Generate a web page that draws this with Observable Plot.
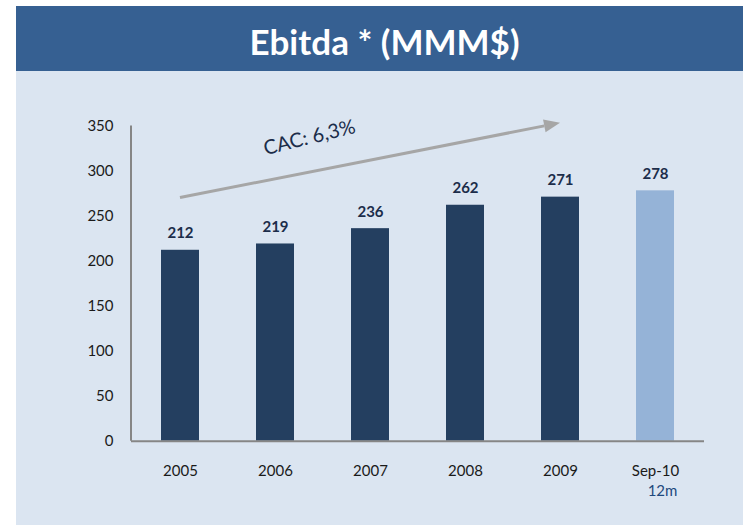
<!DOCTYPE html>
<html>
<head>
<meta charset="utf-8">
<script src="https://cdn.jsdelivr.net/npm/d3@7"></script>
<script src="https://cdn.jsdelivr.net/npm/@observablehq/plot@0.6"></script>
<style>
  html, body { margin: 0; padding: 0; background: #ffffff; }
  #wrap { position: relative; width: 743px; height: 525px; overflow: hidden; font-family: Lato, "Open Sans", sans-serif; }
  #banner { position: absolute; left: 16px; top: 6px; width: 727px; height: 65px; background: #366092;
            color: #ffffff; font-weight: bold; font-size: 35px; line-height: 65px; text-align: center; box-sizing: border-box; padding-left: 10px; padding-top: 3px; }
  #panel { position: absolute; left: 16px; top: 71px; width: 727px; height: 454px; background: #dbe5f1; }
  #chart { position: absolute; left: 0; top: 71px; }
</style>
</head>
<body>
<div id="wrap">
  <div id="banner">Ebitda * (MMM$)</div>
  <div id="panel"></div>
  <div id="chart"></div>
</div>
<script>
// ---- data ----
const categories = ["2005", "2006", "2007", "2008", "2009", "Sep-10"];
const values = [212, 219, 236, 262, 271, 278];
const yTicks = [0, 50, 100, 150, 200, 250, 300, 350];
const notes = [{cat: "Sep-10", text: "12m"}];
const trendLabel = [{cat: "2006", value: 337, text: "CAC: 6,3%"}];
const trendArrow = {fromCat: "2005", fromValue: 270, toCat: "2009", toValue: 353};
const lastCategory = "Sep-10";

const data = categories.map((c, i) => ({cat: c, value: values[i]}));

const dark = "#243f60";
const light = "#95b3d7";
const axisGray = "#868686";
const labelColor = "#1c2d4a";

function leftAxisLine(index, scales, values, dims) {
  const y = scales.y;
  const line = document.createElementNS("http://www.w3.org/2000/svg", "line");
  line.setAttribute("x1", dims.marginLeft);
  line.setAttribute("x2", dims.marginLeft);
  line.setAttribute("y1", y(yTicks[yTicks.length - 1]));
  line.setAttribute("y2", y(0));
  line.setAttribute("stroke", axisGray);
  line.setAttribute("stroke-width", 2);
  return line;
}

function arrowMark(index, scales, values, dims) {
  const x = scales.x, y = scales.y;
  const off = typeof x.bandwidth === "function" ? x.bandwidth() / 2 : 0;
  const x1 = x(trendArrow.fromCat) + off, y1 = y(trendArrow.fromValue);
  const x2 = x(trendArrow.toCat) + off, y2 = y(trendArrow.toValue);
  const ang = Math.atan2(y2 - y1, x2 - x1);
  const headLen = 16, headHalf = 6.5;
  const bx = x2 - headLen * Math.cos(ang), by = y2 - headLen * Math.sin(ang);
  const g = document.createElementNS("http://www.w3.org/2000/svg", "g");
  const line = document.createElementNS("http://www.w3.org/2000/svg", "line");
  line.setAttribute("x1", x1); line.setAttribute("y1", y1);
  line.setAttribute("x2", bx); line.setAttribute("y2", by);
  line.setAttribute("stroke", "#a6a6a6");
  line.setAttribute("stroke-width", 3);
  g.appendChild(line);
  const poly = document.createElementNS("http://www.w3.org/2000/svg", "polygon");
  const px = -Math.sin(ang), py = Math.cos(ang);
  poly.setAttribute("points", [
    [x2, y2],
    [bx + px * headHalf, by + py * headHalf],
    [bx - px * headHalf, by - py * headHalf]
  ].map(p => p.join(",")).join(" "));
  poly.setAttribute("fill", "#a6a6a6");
  g.appendChild(poly);
  return g;
}

const plot = Plot.plot({
  width: 743,
  height: 454,
  marginLeft: 131,
  marginRight: 39,
  marginTop: 54.5,
  marginBottom: 84.3,
  style: {background: "transparent", fontFamily: "Lato, 'Open Sans', sans-serif", fontSize: "15px", overflow: "visible"},
  x: {type: "band", domain: categories, paddingInner: 0.6, paddingOuter: 0.3, axis: null, label: null},
  y: {domain: [0, 350], axis: null, label: null},
  marks: [
    Plot.barY(data, {x: "cat", y: "value", fill: d => d.cat === lastCategory ? light : dark}),
    Plot.ruleY([0], {stroke: axisGray, strokeWidth: 2}),
    leftAxisLine,
    Plot.axisY({ticks: yTicks, tickSize: 0, tickPadding: 18, fill: "#1a1a1a", fontSize: 15, label: null, tickFormat: d => String(d)}),
    Plot.axisX({tickSize: 0, tickPadding: 24, fill: "#1a1a1a", fontSize: 15, label: null}),
    Plot.text(data, {x: "cat", y: "value", text: d => String(d.value), dy: -12, lineAnchor: "bottom",
                     fontWeight: "bold", fontSize: 15, fill: labelColor}),
    Plot.text(notes, {x: "cat", y: () => 0, text: "text", dy: 50, dx: 7, fontSize: 15, fill: "#1f497d"}),
    Plot.text(trendLabel, {x: "cat", y: "value", text: "text", dx: 34, rotate: -14, fontSize: 20, fill: "#1c2d4a"}),
    arrowMark
  ]
});
document.getElementById("chart").appendChild(plot);
</script>
</body>
</html>
